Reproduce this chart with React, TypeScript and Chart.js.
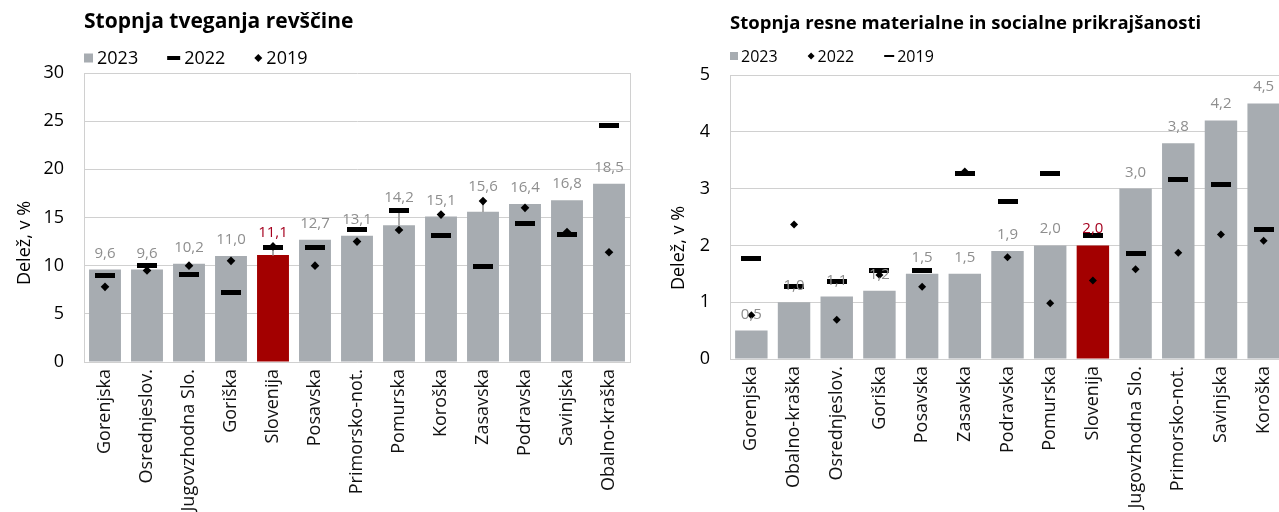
import React, { useEffect, useRef } from "react";
import { Chart, registerables } from "chart.js";

Chart.register(...registerables);

const FONT = "'Open Sans', 'Noto Sans', sans-serif";

// ---------- Left chart: Stopnja tveganja revščine ----------
const povertyTitle = "Stopnja tveganja revščine";
const povertyCategories = [
  "Gorenjska", "Osrednjeslov.", "Jugovzhodna Slo.", "Goriška", "Slovenija", "Posavska",
  "Primorsko-not.", "Pomurska", "Koroška", "Zasavska", "Podravska", "Savinjska", "Obalno-kraška",
];
const poverty2023 = [9.6, 9.6, 10.2, 11.0, 11.1, 12.7, 13.1, 14.2, 15.1, 15.6, 16.4, 16.8, 18.5];
const poverty2022 = [9.0, 10.0, 9.1, 7.2, 11.9, 11.9, 13.8, 15.7, 13.1, 9.9, 14.4, 13.2, 24.6];
const poverty2019 = [7.8, 9.5, 10.0, 10.5, 12.0, 10.0, 12.5, 13.7, 15.3, 16.7, 16.0, 13.5, 11.4];
const povertyWhiskerTop = [null, null, null, null, 12.0, null, null, 15.7, null, 16.8, null, null, null];
const povertyTicks = [0, 5, 10, 15, 20, 25, 30];

// ---------- Right chart: Stopnja resne materialne in socialne prikrajšanosti ----------
const deprivationTitle = "Stopnja resne materialne in socialne prikrajšanosti";
const deprivationCategories = [
  "Gorenjska", "Obalno-kraška", "Osrednjeslov.", "Goriška", "Posavska", "Zasavska",
  "Podravska", "Pomurska", "Slovenija", "Jugovzhodna Slo.", "Primorsko-not.", "Savinjska", "Koroška",
];
const deprivation2023 = [0.5, 1.0, 1.1, 1.2, 1.5, 1.5, 1.9, 2.0, 2.0, 3.0, 3.8, 4.2, 4.5];
const deprivation2022 = [0.77, 2.37, 0.69, 1.48, 1.27, 3.3, 1.79, 0.98, 1.38, 1.58, 1.87, 2.19, 2.08];
const deprivation2019 = [1.77, 1.27, 1.37, 1.56, 1.56, 3.27, 2.78, 3.27, 2.18, 1.86, 3.16, 3.07, 2.28];
const deprivationWhiskerTop = [null, null, null, null, null, null, null, null, null, null, null, null, null];
const deprivationTicks = [0, 1, 2, 3, 4, 5];

const yTitle = "Delež, v %";
const HIGHLIGHT = "Slovenija";

const BAR_GREY = "#a7acb1";
const BAR_RED = "#a30000";
const LABEL_GREY = "#8e8e8e";
const LABEL_RED = "#a5001e";
const GRID = "#d0d0d0";

function makeDash(w: number, h: number) {
  const c = document.createElement("canvas");
  c.width = w;
  c.height = h;
  const g = c.getContext("2d")!;
  g.fillStyle = "#000";
  g.fillRect(0, 0, w, h);
  return c;
}

const fmt = (v: number) => v.toFixed(1).replace(".", ",");

const decorPlugin = {
  id: "decor",
  afterDatasetsDraw(chart: any, _args: any, opts: any) {
    const ctx = chart.ctx;
    const meta = chart.getDatasetMeta(0);
    const yScale = chart.scales.y;
    const ds = chart.data.datasets[0];
    ctx.save();
    ctx.font = `${opts.valueSize}px ${FONT}`;
    ctx.textAlign = "center";
    ctx.textBaseline = "alphabetic";
    meta.data.forEach((el: any, i: number) => {
      const v = ds.data[i];
      if (v == null) return;
      let top = el.y;
      let gap = 12;
      const wt = opts.whiskerTop[i];
      if (wt != null) {
        top = Math.min(top, yScale.getPixelForValue(wt));
        gap = 9;
      }
      ctx.fillStyle = chart.data.labels[i] === HIGHLIGHT ? LABEL_RED : LABEL_GREY;
      ctx.fillText(fmt(v), el.x, top - gap);
    });
    ctx.restore();
  },
  afterDraw(chart: any, _args: any, opts: any) {
    const ctx = chart.ctx;
    const { left, right, top, bottom } = chart.chartArea;
    ctx.save();
    if (opts.rightFrame) {
      ctx.strokeStyle = GRID;
      ctx.lineWidth = 1;
      ctx.beginPath();
      ctx.moveTo(Math.round(right) + 0.5, top);
      ctx.lineTo(Math.round(right) + 0.5, bottom);
      ctx.stroke();
    }
    // title
    ctx.fillStyle = "#000";
    ctx.textAlign = "left";
    ctx.textBaseline = "alphabetic";
    ctx.font = `bold ${opts.titleSize}px ${FONT}`;
    ctx.fillText(opts.title, left + opts.titleDx, opts.titleBaseline);
    // legend
    ctx.font = `${opts.legendSize}px ${FONT}`;
    let x = left + opts.legendDx;
    const cy = opts.legendCy;
    const base = opts.legendBaseline;
    for (const item of opts.legendItems) {
      let mw = 0;
      if (item.kind === "square") {
        mw = opts.sq;
        ctx.fillStyle = BAR_GREY;
        ctx.fillRect(x, cy - mw / 2, mw, mw);
      } else if (item.kind === "dash") {
        mw = opts.dashW;
        ctx.fillStyle = "#000";
        ctx.fillRect(x, cy - opts.dashH / 2, mw, opts.dashH);
      } else {
        const r = opts.diaR;
        mw = 2 * r;
        ctx.fillStyle = "#000";
        ctx.beginPath();
        ctx.moveTo(x + r, cy - r);
        ctx.lineTo(x + 2 * r, cy);
        ctx.lineTo(x + r, cy + r);
        ctx.lineTo(x, cy);
        ctx.closePath();
        ctx.fill();
      }
      x += mw + opts.markerGap;
      ctx.fillStyle = "#000";
      ctx.fillText(item.label, x, base);
      x += ctx.measureText(item.label).width + opts.itemGap;
    }
    // y title
    ctx.save();
    ctx.translate(opts.yTitleX, opts.yTitleY);
    ctx.rotate(-Math.PI / 2);
    ctx.textAlign = "center";
    ctx.textBaseline = "middle";
    ctx.font = `18px ${FONT}`;
    ctx.fillStyle = "#000";
    ctx.fillText(yTitle, 0, 0);
    ctx.restore();
    ctx.restore();
  },
};

type PanelProps = {
  title: string;
  categories: string[];
  bars: number[];
  dashes: number[];
  diamonds: number[];
  dashLabel: string;
  diamondLabel: string;
  whiskerTop: (number | null)[];
  ticks: number[];
  legendOrder: ("square" | "dash" | "diamond")[];
  width: number;
  left: number;
  yWidth: number;
  padTop: number;
  xHeight: number;
  padRight: number;
  rightFrame: boolean;
  legendSize: number;
  legendDx: number;
  sq: number;
  dashW: number;
  dashH: number;
  diaR: number;
  markerGap: number;
  itemGap: number;
  legendCy: number;
  legendBaseline: number;
  titleSize: number;
  titleBaseline: number;
  yTitleX: number;
  yTitleY: number;
  diamondRadius: number;
};

function Panel(p: PanelProps) {
  const ref = useRef<HTMLCanvasElement | null>(null);
  useEffect(() => {
    if (!ref.current) return;
    const dashImg = makeDash(20, 5);
    const labels = {
      square: "2023",
      dash: p.dashLabel,
      diamond: p.diamondLabel,
    } as Record<string, string>;
    const chart = new Chart(ref.current, {
      type: "bar",
      data: {
        labels: p.categories,
        datasets: [
          {
            type: "bar",
            label: "2023",
            data: p.bars,
            backgroundColor: p.categories.map((c) => (c === HIGHLIGHT ? BAR_RED : BAR_GREY)),
            borderWidth: 0,
            barPercentage: 0.76,
            categoryPercentage: 1,
            grouped: false,
            order: 4,
          } as any,
          {
            type: "bar",
            label: "whisker",
            data: p.whiskerTop.map((t, i) => (t == null ? null : [p.bars[i], t])),
            backgroundColor: "#9b9b9b",
            borderWidth: 0,
            barThickness: 1,
            grouped: false,
            order: 3,
          } as any,
          {
            type: "line",
            label: p.dashLabel,
            data: p.dashes,
            showLine: false,
            pointStyle: dashImg,
            pointRadius: 5,
            order: 2,
          } as any,
          {
            type: "line",
            label: p.diamondLabel,
            data: p.diamonds,
            showLine: false,
            pointStyle: "rectRot",
            pointRadius: p.diamondRadius,
            pointBackgroundColor: "#000",
            pointBorderWidth: 0,
            order: 1,
          } as any,
        ],
      },
      options: {
        animation: false,
        responsive: false,
        events: [],
        layout: { padding: { top: p.padTop, right: p.padRight, left: 0, bottom: 0 } },
        plugins: {
          legend: { display: false },
          title: { display: false },
          tooltip: { enabled: false },
          decor: {
            title: p.title,
            titleSize: p.titleSize,
            titleDx: 0,
            titleBaseline: p.titleBaseline,
            legendItems: p.legendOrder.map((k) => ({ kind: k, label: labels[k] })),
            legendSize: p.legendSize,
            legendDx: p.legendDx,
            sq: p.sq,
            dashW: p.dashW,
            dashH: p.dashH,
            diaR: p.diaR,
            markerGap: p.markerGap,
            itemGap: p.itemGap,
            legendCy: p.legendCy,
            legendBaseline: p.legendBaseline,
            yTitleX: p.yTitleX,
            yTitleY: p.yTitleY,
            whiskerTop: p.whiskerTop,
            valueSize: 15,
            rightFrame: p.rightFrame,
          },
        } as any,
        scales: {
          x: {
            type: "category",
            offset: true,
            grid: { display: false, drawTicks: false },
            border: { display: true, color: GRID, width: 1 },
            ticks: {
              autoSkip: false,
              minRotation: 90,
              maxRotation: 90,
              padding: 7,
              color: "#111",
              font: { family: FONT, size: 18 },
            },
            afterFit: (s: any) => {
              s.height = p.xHeight;
            },
          },
          y: {
            min: p.ticks[0],
            max: p.ticks[p.ticks.length - 1],
            grid: { color: GRID, lineWidth: 1, drawTicks: false },
            border: { display: true, color: GRID, width: 1 },
            ticks: {
              padding: 20,
              color: "#000",
              font: { family: FONT, size: 18 },
              callback: (v: any) => String(v),
            },
            afterBuildTicks: (s: any) => {
              s.ticks = p.ticks.map((v) => ({ value: v }));
            },
            afterFit: (s: any) => {
              s.width = p.yWidth;
            },
          },
        },
      },
      plugins: [decorPlugin],
    } as any);
    return () => chart.destroy();
  }, []);
  return (
    <div style={{ position: "absolute", left: p.left, top: 0, width: p.width, height: 512 }}>
      <canvas ref={ref} width={p.width} height={512} style={{ width: p.width, height: 512, display: "block" }} />
    </div>
  );
}

export default function App() {
  return (
    <div
      style={{
        position: "fixed",
        left: 0,
        top: 0,
        width: 1279,
        height: 512,
        overflow: "hidden",
        background: "#fff",
      }}
    >
      <Panel
        title={povertyTitle}
        categories={povertyCategories}
        bars={poverty2023}
        dashes={poverty2022}
        diamonds={poverty2019}
        dashLabel="2022"
        diamondLabel="2019"
        whiskerTop={povertyWhiskerTop}
        ticks={povertyTicks}
        legendOrder={["square", "dash", "diamond"]}
        width={640}
        left={0}
        yWidth={84}
        padTop={73}
        xHeight={150}
        padRight={10}
        rightFrame={true}
        legendSize={18}
        legendDx={0}
        sq={9}
        dashW={13}
        dashH={4}
        diaR={4}
        markerGap={4}
        itemGap={29}
        legendCy={58}
        legendBaseline={64}
        titleSize={21}
        titleBaseline={28}
        yTitleX={25}
        yTitleY={243}
        diamondRadius={4.3}
      />
      <Panel
        title={deprivationTitle}
        categories={deprivationCategories}
        bars={deprivation2023}
        dashes={deprivation2019}
        diamonds={deprivation2022}
        dashLabel="2019"
        diamondLabel="2022"
        whiskerTop={deprivationWhiskerTop}
        ticks={deprivationTicks}
        legendOrder={["square", "diamond", "dash"]}
        width={660}
        left={640}
        yWidth={90}
        padTop={75}
        xHeight={153}
        padRight={15}
        rightFrame={false}
        legendSize={16}
        legendDx={0}
        sq={8}
        dashW={10}
        dashH={2}
        diaR={3.5}
        markerGap={3}
        itemGap={30}
        legendCy={56}
        legendBaseline={62}
        titleSize={18.5}
        titleBaseline={29}
        yTitleX={39}
        yTitleY={248}
        diamondRadius={4}
      />
    </div>
  );
}
